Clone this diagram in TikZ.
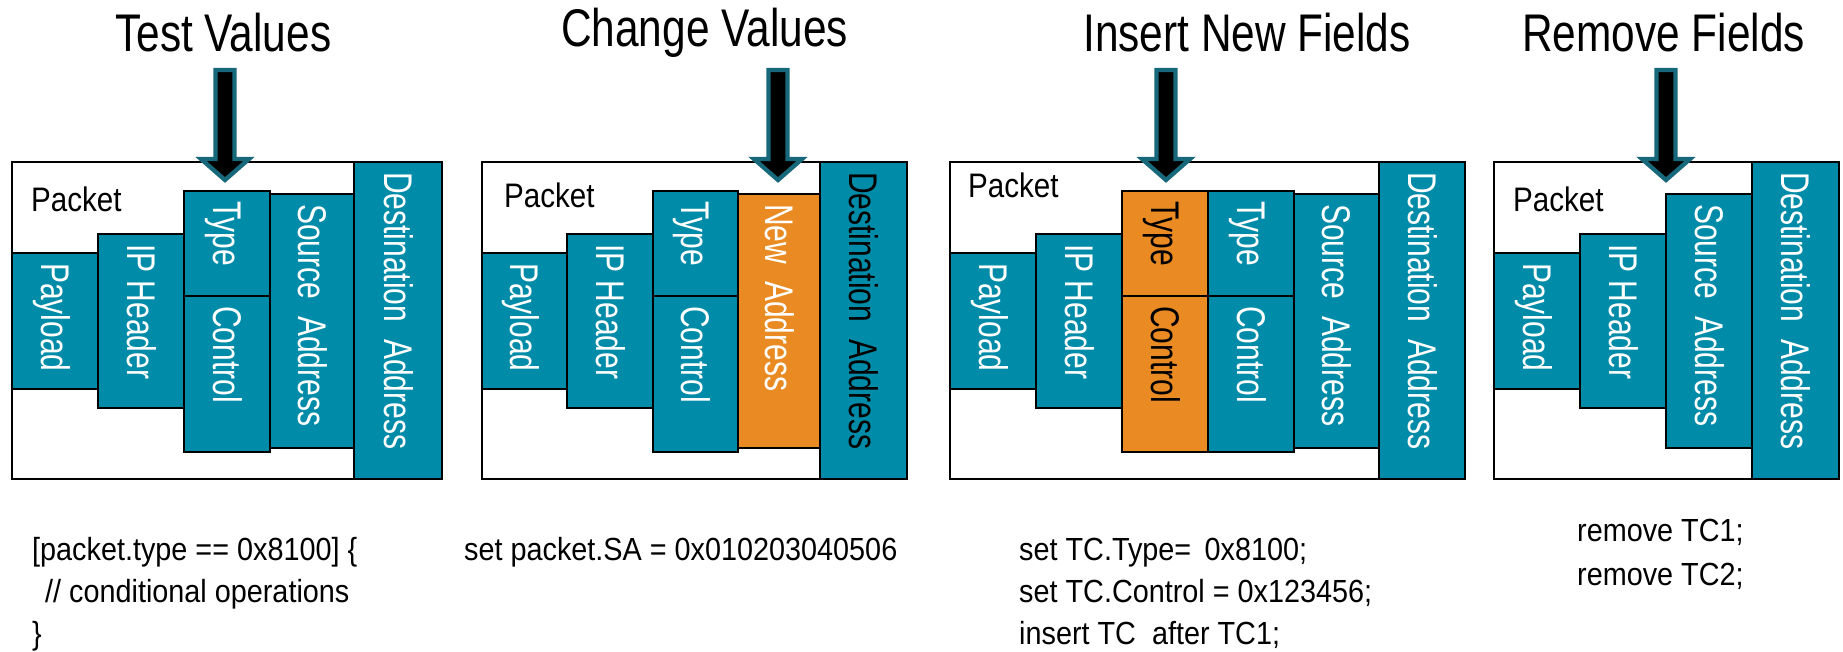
\documentclass[tikz,border=0pt]{standalone}
\usepackage{fontspec}
\setmainfont{Liberation Sans}
\newfontfamily\titlefont[FakeStretch=0.8]{Liberation Sans}
\newfontfamily\fieldfont[FakeStretch=0.75]{Liberation Sans}
\newfontfamily\pktfont[FakeStretch=0.87]{Liberation Sans}
\newfontfamily\codefont[FakeStretch=0.9]{Liberation Sans}

\definecolor{fieldteal}{HTML}{008CA8}
\definecolor{fieldorange}{HTML}{E98B22}
\definecolor{arrowedge}{HTML}{17687A}

% rectangle node spanning (x0,y0)-(x1,y1): name, style, x0, y0, x1, y1
\newcommand\fieldrect[6]{%
  \node[#2, minimum width={#5pt-#3pt}, minimum height={#6pt-#4pt}] (#1) at (#3,#4) {};}
% vertical label hanging from the top of a field: field name, extra style, text
\newcommand\fieldtext[3]{%
  \node[fieldlabel,#2] (#1-t) at ([yshift=-10pt]#1.north) {#3};}
% thick down arrow with its shaft centred on a named coordinate
\newcommand\pointerarrow[1]{%
  \draw[bigarrow] (#1) ++(-9.5,0) -- ++(19,0) -- ++(0,89) -- ++(14.5,0)
    -- ++(-24,21) -- ++(-24,-21) -- ++(14.5,0) -- cycle;}
\newcommand\wsp{\hspace{17pt}}

\begin{document}
\begin{tikzpicture}[x=1pt,y=-1pt,
  packetbox/.style={draw=black, fill=white, line width=2.6pt, inner sep=0pt,
    outer sep=0pt, anchor=north west},
  field/.style={packetbox, fill=fieldteal},
  newfield/.style={packetbox, fill=fieldorange},
  fieldlabel/.style={rotate=-90, anchor=west, inner sep=0pt, text=white,
    font=\fieldfont\fontsize{40}{40}\selectfont, text height=27.5pt, text depth=0pt},
  darklabel/.style={text=black},
  title/.style={anchor=base west, inner sep=0pt,
    font=\titlefont\fontsize{53}{53}\selectfont},
  pkt/.style={anchor=base west, inner sep=0pt,
    font=\pktfont\fontsize{34}{34}\selectfont},
  code/.style={anchor=base west, inner sep=0pt,
    font=\codefont\fontsize{32}{32}\selectfont},
  bigarrow/.style={fill=black, draw=arrowedge, line width=4.3pt, miter limit=10}]

\fill[white] (0,0) rectangle (1843,652);
\useasboundingbox (0,0) rectangle (1843,652);

% ---------- Test Values ----------
\node[title] (t1) at (115,52) {Test Values};
\fieldrect{p1box}{packetbox}{12}{162}{354}{479}
\fieldrect{p1pay}{field}{12}{253}{98}{389}
\fieldrect{p1ip}{field}{98}{234}{184}{408}
\fieldrect{p1type}{field}{184}{191}{270}{296}
\fieldrect{p1ctl}{field}{184}{296}{270}{452}
\fieldrect{p1sa}{field}{270}{194}{354}{448}
\fieldrect{p1da}{field}{354}{162}{442}{479}
\node[pkt] (p1pk) at (31,212) {Packet};
\fieldtext{p1pay}{}{Payload}
\fieldtext{p1ip}{}{IP Header}
\fieldtext{p1type}{}{Type}
\fieldtext{p1ctl}{}{Control}
\fieldtext{p1sa}{}{Source\wsp Address}
\fieldtext{p1da}{}{Destination\wsp Address}
\coordinate (a1) at (225,70);
\pointerarrow{a1}
\node[code] (c11) at (32,560) {[packet.type == 0x8100] \{};
\node[code] (c12) at (45,602) {// conditional operations};
\node[code] (c13) at (32,644) {\}};

% ---------- Change Values ----------
\node[title] (t2) at (561,47) {Change Values};
\fieldrect{p2box}{packetbox}{482}{162}{820}{479}
\fieldrect{p2pay}{field}{482}{253}{567}{389}
\fieldrect{p2ip}{field}{567}{234}{653}{408}
\fieldrect{p2type}{field}{653}{191}{738}{296}
\fieldrect{p2ctl}{field}{653}{296}{738}{452}
\fieldrect{p2na}{newfield}{738}{194}{820}{448}
\fieldrect{p2da}{field}{820}{162}{907}{479}
\node[pkt] (p2pk) at (504,208) {Packet};
\fieldtext{p2pay}{}{Payload}
\fieldtext{p2ip}{}{IP Header}
\fieldtext{p2type}{}{Type}
\fieldtext{p2ctl}{}{Control}
\fieldtext{p2na}{}{New\wsp Address}
\fieldtext{p2da}{darklabel}{Destination\wsp Address}
\coordinate (a2) at (778,70);
\pointerarrow{a2}
\node[code] (c21) at (464,560) {set packet.SA = 0x010203040506};

% ---------- Insert New Fields ----------
\node[title] (t3) at (1083,52) {Insert New Fields};
\fieldrect{p3box}{packetbox}{950}{162}{1379}{479}
\fieldrect{p3pay}{field}{950}{253}{1036}{389}
\fieldrect{p3ip}{field}{1036}{234}{1122}{408}
\fieldrect{p3ntype}{newfield}{1122}{191}{1208}{296}
\fieldrect{p3nctl}{newfield}{1122}{296}{1208}{452}
\fieldrect{p3type}{field}{1208}{191}{1294}{296}
\fieldrect{p3ctl}{field}{1208}{296}{1294}{452}
\fieldrect{p3sa}{field}{1294}{194}{1379}{448}
\fieldrect{p3da}{field}{1379}{162}{1465}{479}
\node[pkt] (p3pk) at (968,198) {Packet};
\fieldtext{p3pay}{}{Payload}
\fieldtext{p3ip}{}{IP Header}
\fieldtext{p3ntype}{darklabel}{Type}
\fieldtext{p3nctl}{darklabel}{Control}
\fieldtext{p3type}{}{Type}
\fieldtext{p3ctl}{}{Control}
\fieldtext{p3sa}{}{Source\wsp Address}
\fieldtext{p3da}{}{Destination\wsp Address}
\coordinate (a3) at (1166,70);
\pointerarrow{a3}
\node[code] (c31) at (1019,560) {set TC.Type=\, 0x8100;};
\node[code] (c32) at (1019,602) {set TC.Control = 0x123456;};
\node[code] (c33) at (1019,644) {insert TC\ \ after TC1;};

% ---------- Remove Fields ----------
\node[title] (t4) at (1522,52) {Remove Fields};
\fieldrect{p4box}{packetbox}{1494}{162}{1752}{479}
\fieldrect{p4pay}{field}{1494}{253}{1580}{389}
\fieldrect{p4ip}{field}{1580}{234}{1666}{408}
\fieldrect{p4sa}{field}{1666}{194}{1752}{448}
\fieldrect{p4da}{field}{1752}{162}{1839}{479}
\node[pkt] (p4pk) at (1513,212) {Packet};
\fieldtext{p4pay}{}{Payload}
\fieldtext{p4ip}{}{IP Header}
\fieldtext{p4sa}{}{Source\wsp Address}
\fieldtext{p4da}{}{Destination\wsp Address}
\coordinate (a4) at (1666,70);
\pointerarrow{a4}
\node[code] (c41) at (1577,541) {remove TC1;};
\node[code] (c42) at (1577,585) {remove TC2;};

\end{tikzpicture}
\end{document}
